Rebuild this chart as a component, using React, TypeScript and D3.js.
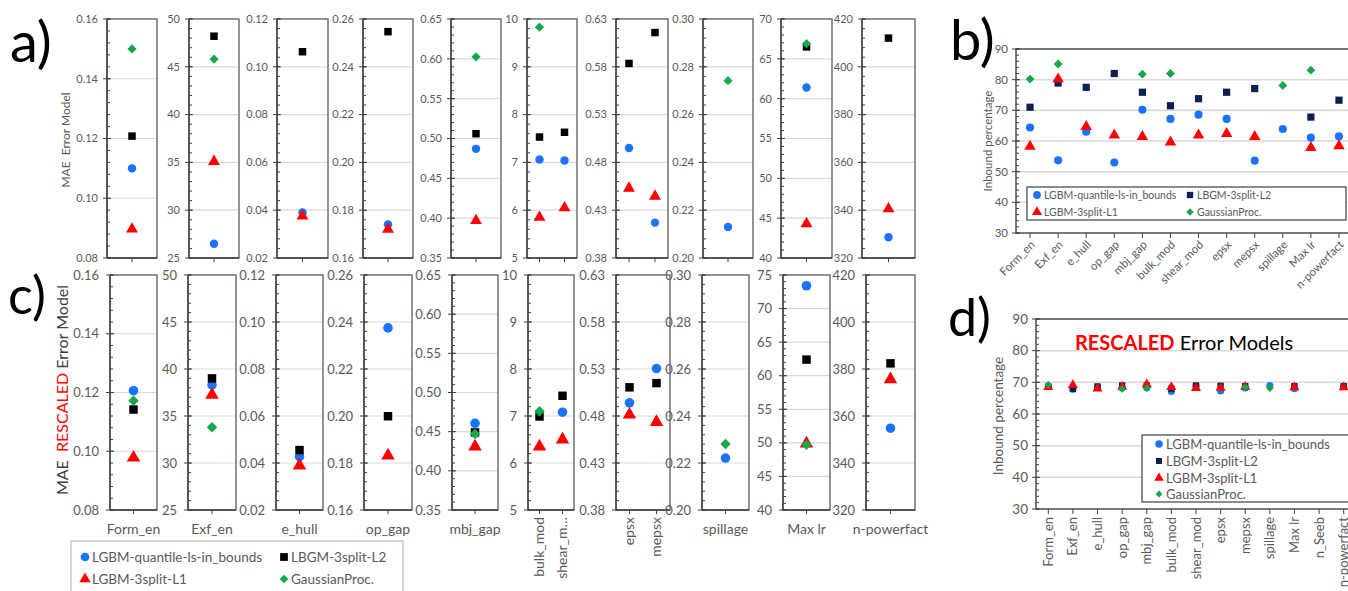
import React from "react";
import * as d3 from "d3";

const FONT = "Lato, 'Open Sans', sans-serif";
const GRAY = "#595959";
const DARK = "#404040";
const GRID = "#d9d9d9";
const C_BLUE = "#1a73ff";
const C_BLACK = "#000000";
const C_NAVY = "#0c1f55";
const C_RED = "#ff0000";
const C_GREEN = "#14a84b";

// ---------- categories ----------
const catsAC = ["Form_en", "Exf_en", "e_hull", "op_gap", "mbj_gap", "bulk_mod", "shear_mod", "epsx", "mepsx", "spillage", "Max lr", "n-powerfact"];
const labelsC = ["Form_en", "Exf_en", "e_hull", "op_gap", "mbj_gap", "bulk_mod", "shear_m…", "epsx", "mepsx", "spillage", "Max lr", "n-powerfact"];
const catsB = ["Form_en", "Exf_en", "e_hull", "op_gap", "mbj_gap", "bulk_mod", "shear_mod", "epsx", "mepsx", "spillage", "Max lr", "n-powerfact"];
const catsD = ["Form_en", "Exf_en", "e_hull", "op_gap", "mbj_gap", "bulk_mod", "shear_mod", "epsx", "mepsx", "spillage", "Max lr", "n_Seeb", "n-powerfact"];

// which categories share a sub-plot in panels a) and c)
const groupsAC = [[0], [1], [2], [3], [4], [5, 6], [7, 8], [9], [10], [11]];
const domainsA = [[0.08, 0.16], [25, 50], [0.02, 0.12], [0.16, 0.26], [0.35, 0.65], [5, 10], [0.38, 0.63], [0.2, 0.3], [40, 70], [320, 420]];
const domainsC = [[0.08, 0.16], [25, 50], [0.02, 0.12], [0.16, 0.26], [0.35, 0.65], [5, 10], [0.38, 0.63], [0.2, 0.3], [40, 75], [320, 420]];
const stepsAC = [0.02, 5, 0.02, 0.02, 0.05, 1, 0.05, 0.02, 5, 20];
const decimalsAC = [2, 0, 2, 2, 2, 0, 2, 2, 0, 0];

// ---------- panel a) MAE Error Model ----------
const aQuantile = [0.11, 26.5, 0.039, 0.174, 0.487, 7.06, 7.04, 0.495, 0.417, 0.213, 61.4, 328.7];
const aL2 = [0.1208, 48.2, 0.1063, 0.2547, 0.506, 7.53, 7.63, 0.5835, 0.6158, null, 66.5, 412];
const aL1 = [0.0897, 35.1, 0.0375, 0.172, 0.397, 5.85, 6.05, 0.453, 0.4446, null, 44.3, 340.6];
const aGP = [0.15, 45.8, null, null, 0.6025, 9.83, null, null, null, 0.2742, 66.9, null];

// ---------- panel c) MAE RESCALED Error Model ----------
const cQuantile = [0.1206, 38.3, 0.0427, 0.2375, 0.4607, null, 7.08, 0.494, 0.5305, 0.2221, 73.4, 354.8];
const cL2 = [0.1142, 39.0, 0.0455, 0.1999, 0.449, 6.99, 7.43, 0.5105, 0.515, null, 62.4, 382.4];
const cL1 = [0.0978, 37.25, 0.0389, 0.1832, 0.431, 6.35, 6.5, 0.4814, 0.4736, null, 49.9, 375.6];
const cGP = [0.1172, 33.8, null, null, 0.447, 7.1, null, null, null, 0.2281, 49.7, null];

// ---------- panel b) Inbound percentage ----------
const bQuantile = [64.4, 53.7, 63.0, 53.0, 70.2, 67.2, 68.6, 67.2, 53.6, 63.9, 61.1, 61.5];
const bL2 = [71.0, 78.9, 77.5, 82.0, 75.9, 71.5, 73.8, 75.9, 77.1, null, 67.8, 73.3];
const bL1 = [58.2, 80.2, 64.7, 61.9, 61.4, 59.6, 61.9, 62.4, 61.4, null, 57.8, 58.4];
const bGP = [80.2, 85.1, null, null, 81.8, 82.0, null, null, null, 78.1, 83.1, null];

// ---------- panel d) Inbound percentage, rescaled ----------
const dQuantile = [68.6, 67.8, 68.5, 68.2, 68.3, 67.1, 68.8, 67.3, 68.2, 69.0, 68.0, null, 68.6];
const dL2 = [68.7, 67.9, 68.7, 69.0, 69.0, 68.0, 69.0, 68.9, 68.8, null, 68.8, null, 68.8];
const dL1 = [68.5, 69.1, 68.0, 68.6, 69.4, 68.5, 68.2, 68.3, 68.6, null, 68.4, null, 68.4];
const dGP = [69.2, null, null, 67.9, 68.2, null, null, null, 68.5, 68.2, null, null, null];

const ticksBD = [30, 40, 50, 60, 70, 80, 90];

const seriesNames = ["LGBM-quantile-ls-in_bounds", "LBGM-3split-L2", "LGBM-3split-L1", "GaussianProc."];
const shapes = ["circle", "square", "triangle", "diamond"];

type Shape = "circle" | "square" | "triangle" | "diamond";

function symPath(shape: Shape, size: number) {
  const t = shape === "circle" ? d3.symbolCircle : shape === "triangle" ? d3.symbolTriangle : d3.symbolSquare;
  return d3.symbol(t, size)() as string;
}

function Marker({ shape, color, x, y, size }: { shape: Shape; color: string; x: number; y: number; size: number }) {
  const s = shape === "triangle" ? size * 1.1 : shape === "diamond" ? size * 0.75 : size;
  return (
    <path
      d={symPath(shape, s)}
      fill={color}
      transform={`translate(${x},${y})${shape === "diamond" ? " rotate(45)" : ""}`}
    />
  );
}

function subdivide(d0: number, d1: number, step: number, parts: number) {
  const n = Math.round((d1 - d0) / step);
  const major = d3.range(n + 1).map((i) => d0 + i * step);
  const minor = d3.range(n * parts + 1).map((i) => d0 + (i * step) / parts);
  return { major, minor };
}

function SplitPanel(props: {
  lefts: number[];
  widths: number[];
  top: number;
  bottom: number;
  domains: number[][];
  series: (number | null)[][];
  colors: string[];
  tickFont: number;
  tickGap: number;
  markerSize: number;
  labels?: string[];
}) {
  const { lefts, widths, top, bottom, domains, series, colors, tickFont, tickGap, markerSize, labels } = props;
  return (
    <g>
      {groupsAC.map((cats, g) => {
        const x0 = lefts[g];
        const x1 = x0 + widths[g];
        const y = d3.scaleLinear().domain(domains[g]).range([bottom, top]);
        const xs = d3.scalePoint<number>().domain(cats).range([x0, x1]).padding(0.5);
        const { major, minor } = subdivide(domains[g][0], domains[g][1], stepsAC[g], 5);
        const fmt = d3.format(`.${decimalsAC[g]}f`);
        return (
          <g key={g}>
            {major.slice(1, -1).map((t, i) => (
              <line key={i} x1={x0} x2={x1} y1={y(t)} y2={y(t)} stroke={GRID} strokeWidth={1.2} />
            ))}
            <rect x={x0} y={top} width={x1 - x0} height={bottom - top} fill="none" stroke={GRAY} strokeWidth={1.3} />
            <line x1={x0} x2={x0} y1={top} y2={bottom} stroke={DARK} strokeWidth={1.4} />
            <line x1={x0} x2={x1} y1={bottom} y2={bottom} stroke={DARK} strokeWidth={1.4} />
            {minor.map((t, i) => (
              <line key={i} x1={x0} x2={x0 + 3} y1={y(t)} y2={y(t)} stroke={DARK} strokeWidth={1} />
            ))}
            {major.map((t, i) => (
              <g key={i}>
                <line x1={x0 - 4} x2={x0 + 4} y1={y(t)} y2={y(t)} stroke={DARK} strokeWidth={1} />
                <text
                  x={x0 - tickGap}
                  y={y(t)}
                  dy="0.35em"
                  textAnchor="end"
                  fontSize={tickFont}
                  fill={GRAY}
                  fontFamily={FONT}
                >
                  {fmt(t)}
                </text>
              </g>
            ))}
            {cats.map((c) => (
              <line key={c} x1={xs(c)} x2={xs(c)} y1={bottom} y2={bottom + 4} stroke={DARK} strokeWidth={1} />
            ))}
            {series.map((vals, s) =>
              cats.map((c) =>
                vals[c] == null ? null : (
                  <Marker
                    key={`${s}-${c}`}
                    shape={shapes[s] as Shape}
                    color={colors[s]}
                    x={xs(c) as number}
                    y={y(vals[c] as number)}
                    size={markerSize}
                  />
                )
              )
            )}
            {labels &&
              (cats.length === 1 ? (
                <text
                  x={(x0 + x1) / 2}
                  y={534}
                  textAnchor="middle"
                  fontSize={14}
                  fill={GRAY}
                  fontFamily={FONT}
                >
                  {labels[cats[0]]}
                </text>
              ) : (
                cats.map((c) => (
                  <text
                    key={c}
                    transform={`translate(${xs(c)},${517}) rotate(-90)`}
                    dy="0.35em"
                    textAnchor="end"
                    fontSize={14}
                    fill={GRAY}
                    fontFamily={FONT}
                  >
                    {labels[c]}
                  </text>
                ))
              ))}
          </g>
        );
      })}
    </g>
  );
}

function CatPanel(props: {
  cats: string[];
  left: number;
  right: number;
  top: number;
  bottom: number;
  series: (number | null)[][];
  tickFont: number;
  markerSize: number;
  labelFont: number;
  labelAngle: number;
  labelY: number;
}) {
  const { cats, left, right, top, bottom, series, tickFont, markerSize, labelFont, labelAngle, labelY } = props;
  const x = d3.scalePoint<string>().domain(cats).range([left, right]).padding(0.5);
  const y = d3.scaleLinear().domain([30, 90]).range([bottom, top]);
  const colors = [C_BLUE, C_NAVY, C_RED, C_GREEN];
  const { minor } = subdivide(30, 90, 10, 5);
  return (
    <g>
      {ticksBD.slice(1, -1).map((t) => (
        <line key={t} x1={left} x2={right} y1={y(t)} y2={y(t)} stroke={GRID} strokeWidth={1.5} />
      ))}
      <rect x={left} y={top} width={right - left} height={bottom - top} fill="none" stroke={DARK} strokeWidth={1.4} />
      {minor.map((t, i) => (
        <line key={i} x1={left} x2={left + 3} y1={y(t)} y2={y(t)} stroke={DARK} strokeWidth={1} />
      ))}
      {ticksBD.map((t) => (
        <g key={t}>
          <line x1={left - 4} x2={left + 4} y1={y(t)} y2={y(t)} stroke={DARK} strokeWidth={1} />
          <text x={left - 8} y={y(t)} dy="0.35em" textAnchor="end" fontSize={tickFont} fill={GRAY} fontFamily={FONT}>
            {t}
          </text>
        </g>
      ))}
      {cats.map((c) => (
        <line key={c} x1={x(c)} x2={x(c)} y1={bottom} y2={bottom + 5} stroke={DARK} strokeWidth={1} />
      ))}
      {cats.map((c) => (
        <text
          key={c}
          transform={`translate(${(x(c) as number) + (labelAngle === -45 ? 3 : 0)},${labelY}) rotate(${labelAngle})`}
          dy={labelAngle === -90 ? "0.35em" : "0.3em"}
          textAnchor="end"
          fontSize={labelFont}
          fill={GRAY}
          fontFamily={FONT}
        >
          {c}
        </text>
      ))}
      {series.map((vals, s) =>
        vals.map((v, i) =>
          v == null ? null : (
            <Marker
              key={`${s}-${i}`}
              shape={shapes[s] as Shape}
              color={colors[s]}
              x={x(cats[i]) as number}
              y={y(v)}
              size={markerSize}
            />
          )
        )
      )}
    </g>
  );
}

function LegendItem({ x, y, s, color, font, size }: { x: number; y: number; s: number; color: string; font: number; size: number }) {
  return (
    <g>
      <Marker shape={shapes[s] as Shape} color={color} x={x} y={y} size={size} />
      <text x={x + 7} y={y} dy="0.35em" fontSize={font} fill={GRAY} fontFamily={FONT}>
        {seriesNames[s]}
      </text>
    </g>
  );
}

export default function App() {
  const acColors = [C_BLUE, C_BLACK, C_RED, C_GREEN];
  return (
    <svg
      width={1348}
      height={591}
      style={{ position: "absolute", left: 0, top: 0, background: "#fff" }}
      fontFamily={FONT}
    >
      <rect width={1348} height={591} fill="#fff" />

      {/* panel a */}
      <text x={10} y={62} fontSize={56} fill="#000" fontFamily={FONT}>a)</text>
      <text
        transform="translate(66,140) rotate(-90)"
        dy="0.35em"
        textAnchor="middle"
        fontSize={12}
        fill={GRAY}
        fontFamily={FONT}
        style={{ whiteSpace: "pre" }}
      >
        {"MAE  Error Model"}
      </text>
      <SplitPanel
        lefts={[107, 189, 277, 363, 451, 527, 616, 703, 781, 862]}
        widths={[50, 50, 51, 50, 50, 50, 52, 50, 51, 53]}
        top={19}
        bottom={258}
        domains={domainsA}
        series={[aQuantile, aL2, aL1, aGP]}
        colors={acColors}
        tickFont={11}
        tickGap={9}
        markerSize={56}
      />

      {/* panel c */}
      <text x={8} y={314} fontSize={52} fill="#000" fontFamily={FONT}>c)</text>
      <text
        transform="translate(62,390) rotate(-90)"
        dy="0.35em"
        textAnchor="middle"
        fontSize={16}
        fill={DARK}
        fontFamily={FONT}
        style={{ whiteSpace: "pre" }}
      >
        <tspan>{"MAE  "}</tspan>
        <tspan fill={C_RED}>RESCALED</tspan>
        <tspan>{" Error Model"}</tspan>
      </text>
      <SplitPanel
        lefts={[110, 188, 276, 364, 452, 528, 616, 702, 783, 866]}
        widths={[47, 48, 47, 48, 46, 46, 54, 47, 47, 49]}
        top={275}
        bottom={510}
        domains={domainsC}
        series={[cQuantile, cL2, cL1, cGP]}
        colors={acColors}
        tickFont={13}
        tickGap={11}
        markerSize={72}
        labels={labelsC}
      />
      {/* legend c */}
      <rect x={71} y={541} width={332} height={60} fill="#fff" stroke="#bfbfbf" strokeWidth={1.2} />
      <LegendItem x={85} y={557} s={0} color={C_BLUE} font={13.5} size={60} />
      <LegendItem x={284} y={557} s={1} color={C_BLACK} font={13.5} size={60} />
      <LegendItem x={85} y={579} s={2} color={C_RED} font={13.5} size={50} />
      <LegendItem x={284} y={579} s={3} color={C_GREEN} font={13.5} size={50} />

      {/* panel b */}
      <text x={950} y={60} fontSize={56} fill="#000" fontFamily={FONT}>b)</text>
      <text transform="translate(988,141) rotate(-90)" dy="0.35em" textAnchor="middle" fontSize={11.5} fill={GRAY} fontFamily={FONT}>
        Inbound percentage
      </text>
      <CatPanel
        cats={catsB}
        left={1016}
        right={1353}
        top={49}
        bottom={233}
        series={[bQuantile, bL2, bL1, bGP]}
        tickFont={11.5}
        markerSize={52}
        labelFont={11.5}
        labelAngle={-45}
        labelY={243}
      />
      <rect x={1027} y={187} width={319} height={33} fill="#fff" stroke={DARK} strokeWidth={1.2} />
      <LegendItem x={1037} y={195} s={0} color={C_BLUE} font={10.5} size={48} />
      <LegendItem x={1190} y={195} s={1} color={C_NAVY} font={10.5} size={40} />
      <LegendItem x={1037} y={212} s={2} color={C_RED} font={10.5} size={40} />
      <LegendItem x={1190} y={212} s={3} color={C_GREEN} font={10.5} size={36} />

      {/* panel d */}
      <text x={948} y={336} fontSize={52} fill="#000" fontFamily={FONT}>d)</text>
      <text transform="translate(998,416) rotate(-90)" dy="0.35em" textAnchor="middle" fontSize={13.5} fill={GRAY} fontFamily={FONT}>
        Inbound percentage
      </text>
      <CatPanel
        cats={catsD}
        left={1036}
        right={1356}
        top={319}
        bottom={509}
        series={[dQuantile, dL2, dL1, dGP]}
        tickFont={13.5}
        markerSize={40}
        labelFont={13}
        labelAngle={-90}
        labelY={517}
      />
      <text x={1075} y={350} fontSize={20} fontFamily={FONT} fill="#000" style={{ whiteSpace: "pre" }}>
        <tspan fill={C_RED} fontWeight="bold">RESCALED</tspan>
        <tspan>{" Error Models"}</tspan>
      </text>
      <rect x={1142} y={435} width={220} height={67} fill="#fff" stroke={DARK} strokeWidth={1.2} />
      <LegendItem x={1159} y={444} s={0} color={C_BLUE} font={13} size={44} />
      <LegendItem x={1159} y={461} s={1} color={C_NAVY} font={13} size={36} />
      <LegendItem x={1159} y={478} s={2} color={C_RED} font={13} size={36} />
      <LegendItem x={1159} y={494} s={3} color={C_GREEN} font={13} size={32} />
    </svg>
  );
}
